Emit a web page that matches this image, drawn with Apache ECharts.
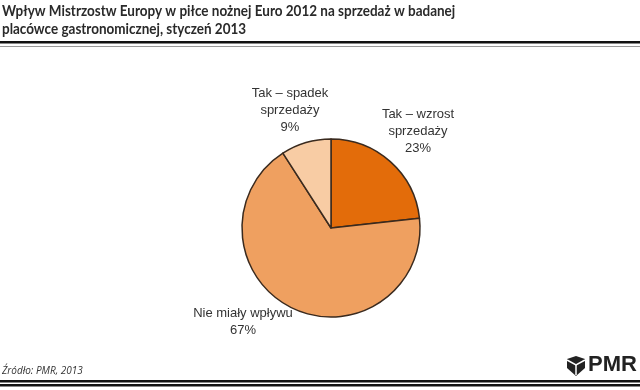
<!DOCTYPE html>
<html><head><meta charset="utf-8">
<script src="https://cdn.jsdelivr.net/npm/echarts@6/dist/echarts.min.js"></script>
<style>html,body{margin:0;padding:0;background:#fff}#c{width:640px;height:390px}</style>
</head><body><div id="c"></div>
<script>
var categories = ['Tak – wzrost\nsprzedaży', 'Nie miały wpływu', 'Tak – spadek\nsprzedaży'];
var values = [23, 67, 9];
var colors = ['#E36C0A', '#EFA060', '#F8CCA4'];
var titleLines = ['Wpływ Mistrzostw Europy w piłce nożnej Euro 2012 na sprzedaż w badanej', 'placówce gastronomicznej, styczeń 2013'];
var sourceText = 'Źródło: PMR, 2013';

var chart = echarts.init(document.getElementById('c'));
var labelPos = [[418, 131], [243, 322], [290, 110]];
chart.setOption({
  animation: false,
  graphic: [
    {type:'text', x:2, y:2, scaleX:0.87, style:{text:titleLines.join('\n'), font:'bold 15.5px Lato', fill:'#2a2a2a', lineHeight:18}},
    {type:'rect', shape:{x:0,y:41,width:640,height:2.5}, style:{fill:'#111'}},
    {type:'rect', shape:{x:0,y:46,width:640,height:1}, style:{fill:'#999'}},
    {type:'text', left:2, top:366, style:{text:sourceText, font:'italic 10px "Open Sans"', fill:'#333'}},
    {type:'rect', shape:{x:0,y:380,width:640,height:2.5}, style:{fill:'#111'}},
    {type:'rect', shape:{x:0,y:384,width:640,height:2.5}, style:{fill:'#111'}},
    {type:'polygon', shape:{points:[[567,359],[576,356],[585,359],[585,368],[576,376],[567,368]]}, style:{fill:'#222'}},
    {type:'polyline', shape:{points:[[567,360],[576,365],[585,360]]}, style:{stroke:'#fff', lineWidth:1.5, fill:null}},
    {type:'line', shape:{x1:576,y1:365,x2:576,y2:375}, style:{stroke:'#fff', lineWidth:1.5}},
    {type:'text', left:588, top:354, style:{text:'PMR', font:'bold 22px "Liberation Sans"', fill:'#222'}}
  ],
  series: [{
    type: 'pie',
    center: [331, 228],
    radius: 89,
    startAngle: 90,
    clockwise: true,
    data: categories.map(function(n, i){ return {name:n, value:values[i], itemStyle:{color:colors[i]}}; }),
    itemStyle: {borderColor:'#3a2a1e', borderWidth:1.5},
    label: {
      show: true, position: 'outside',
      formatter: function(p){ return p.name + '\n' + p.value + '%'; },
      fontFamily: 'Liberation Sans', fontSize: 13, color: '#333', lineHeight: 17, align: 'center'
    },
    labelLine: {show: false},
    labelLayout: function(p){
      return {x: labelPos[p.dataIndex][0], y: labelPos[p.dataIndex][1], align:'center', verticalAlign:'middle'};
    }
  }]
});
</script></body></html>
